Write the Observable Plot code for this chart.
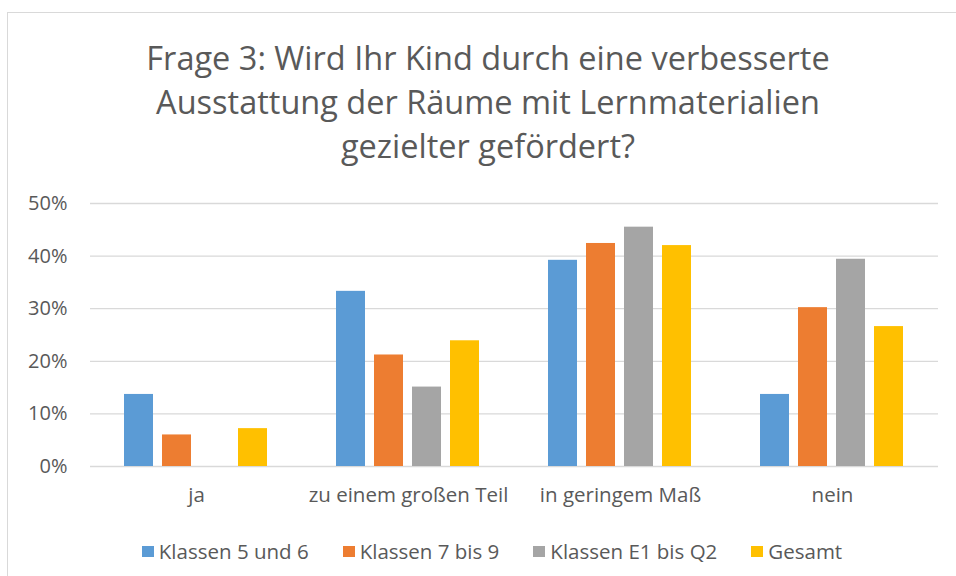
<!DOCTYPE html>
<html>
<head>
<meta charset="utf-8">
<script src="https://cdn.jsdelivr.net/npm/d3@7"></script>
<script src="https://cdn.jsdelivr.net/npm/@observablehq/plot@0.6"></script>
<style>
  html, body { margin: 0; padding: 0; background: #fff; }
  body { width: 956px; height: 576px; overflow: hidden; position: relative; font-family: "Open Sans", sans-serif; color: #595959; }
  #frame { position: absolute; left: 7px; top: 12px; width: 1000px; height: 700px; border: 1.5px solid #d9d9d9; box-sizing: border-box; }
  #title { position: absolute; left: 0; width: 976px; top: 36px; text-align: center; font-size: 32.5px; line-height: 44px; color: #595959; }
  #chart { position: absolute; left: 0; top: 183px; }
  #legend { position: absolute; left: 0; width: 984px; top: 537px; display: flex; justify-content: center; font-size: 20.5px; color: #595959; }
  .item { display: flex; align-items: center; margin: 0 17px; }
  .sw { width: 12px; height: 11px; margin-right: 5px; }
</style>
</head>
<body>
<div id="frame"></div>
<div id="title">Frage 3: Wird Ihr Kind durch eine verbesserte<br>Ausstattung der Räume mit Lernmaterialien<br>gezielter gefördert?</div>
<div id="chart"></div>
<div id="legend"></div>
<script>
const categories = ["ja", "zu einem großen Teil", "in geringem Maß", "nein"];
const series = ["Klassen 5 und 6", "Klassen 7 bis 9", "Klassen E1 bis Q2", "Gesamt"];
const klassen5und6 = [13.7, 33.3, 39.2, 13.7];
const klassen7bis9 = [6.0, 21.2, 42.4, 30.2];
const klassenE1bisQ2 = [0, 15.1, 45.5, 39.4];
const gesamt = [7.2, 23.9, 42.0, 26.6];
const yTicks = [0, 10, 20, 30, 40, 50];
const colors = ["#5b9bd5", "#ed7d31", "#a5a5a5", "#ffc000"];

const seriesValues = [klassen5und6, klassen7bis9, klassenE1bisQ2, gesamt];
const data = [];
categories.forEach((c, i) => {
  series.forEach((s, j) => {
    data.push({category: c, series: s, value: seriesValues[j][i]});
  });
});

const chart = Plot.plot({
  width: 956,
  height: 330,
  marginLeft: 89,
  marginRight: 18,
  marginTop: 20,
  marginBottom: 47,
  style: {fontFamily: "Open Sans, sans-serif", fontSize: "20px", color: "#595959", background: "transparent"},
  fx: {domain: categories, padding: 0, label: null, axis: "bottom", tickSize: 0, tickPadding: 21},
  x: {domain: series, paddingInner: 0.224, paddingOuter: 0.853, axis: null},
  y: {domain: [0, 50], ticks: yTicks, tickFormat: d => d + "%", label: null, tickSize: 0, tickPadding: 23},
  color: {domain: series, range: colors},
  marks: [
    Plot.ruleY(yTicks, {stroke: "#d9d9d9", strokeWidth: 1.3}),
    Plot.barY(data, {fx: "category", x: "series", y: "value", fill: "series"})
  ]
});
chart.querySelectorAll("g[aria-label='fx-axis tick label'] text, g[aria-label='fx-axis tick label']").forEach(el => el.setAttribute("font-size", "20.5px"));
document.getElementById("chart").appendChild(chart);

const legend = document.getElementById("legend");
series.forEach((s, j) => {
  const item = document.createElement("div");
  item.className = "item";
  const sw = document.createElement("div");
  sw.className = "sw";
  sw.style.background = colors[j];
  const label = document.createElement("span");
  label.textContent = s;
  item.appendChild(sw);
  item.appendChild(label);
  legend.appendChild(item);
});
</script>
</body>
</html>
